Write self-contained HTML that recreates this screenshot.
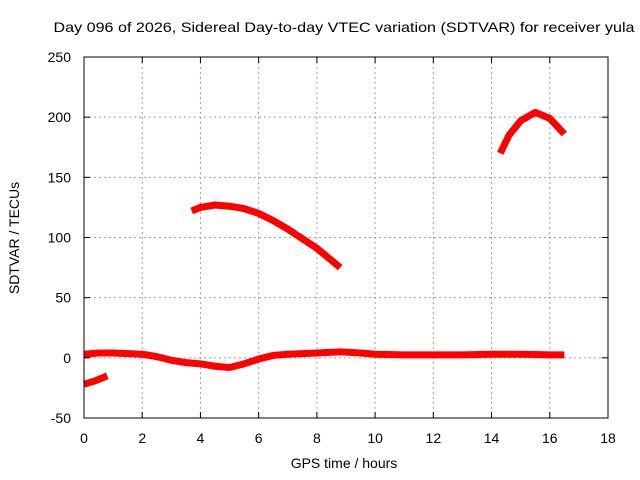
<!DOCTYPE html>
<html><head><meta charset="utf-8"><style>body{margin:0;background:#fff}svg{display:block;font-family:"Liberation Sans",sans-serif}</style></head>
<body>
<svg id="chart" width="640" height="480" viewBox="0 0 640 480">
<rect width="640" height="480" fill="#fff"/>
<text x="344" y="32" text-anchor="middle" font-size="14" textLength="581" lengthAdjust="spacingAndGlyphs">Day 096 of 2026, Sidereal Day-to-day VTEC variation (SDTVAR) for receiver yula</text>
<g id="grid"></g>
<g id="series"></g>
<rect x="84" y="57" width="524" height="361" fill="none" stroke="#000" stroke-width="1"/>
<g id="ticks" font-size="14"></g>
<text x="344" y="468" text-anchor="middle" font-size="14">GPS time / hours</text>
<text transform="translate(19,238) rotate(-90)" text-anchor="middle" font-size="14">SDTVAR / TECUs</text>
</svg>
<script>
const xTicks=[0,2,4,6,8,10,12,14,16,18];
const yTicks=[-50,0,50,100,150,200,250];
const nearZeroHours=[0,0.5,1,1.5,2,2.5,3,3.5,4,4.5,5,5.5,6,6.5,7,8,8.8,9.5,10,11,12,13,14,15,16,16.5];
const nearZeroValues=[3,4,4,3.5,3,1,-2,-4,-5,-7,-8,-5,-1,2,3,4,5,4,3,2.5,2.5,2.5,3,3,2.5,2.5];
const arc0Hours=[0,0.4,0.8];
const arc0Values=[-22,-19,-15];
const arc1Hours=[3.7,4,4.5,5,5.5,6,6.5,7,7.5,8,8.5,8.8];
const arc1Values=[122,125,127,126,124,120,114,107,99,91,81,75];
const arc2Hours=[14.3,14.6,15,15.5,16,16.5];
const arc2Values=[170,185,197,204,199,186];
const X0=84,X1=608,Y0=418,Y1=57;
const xs=h=>X0+h/18*(X1-X0);
const ys=v=>Y0-(v+50)/300*(Y0-Y1);
const NS="http://www.w3.org/2000/svg";
const grid=document.getElementById('grid'),ticks=document.getElementById('ticks'),ser=document.getElementById('series');
function mk(tag,attrs,parent){const e=document.createElementNS(NS,tag);for(const k in attrs)e.setAttribute(k,attrs[k]);parent.appendChild(e);return e;}
xTicks.forEach(t=>{const x=xs(t);
 if(t>0&&t<18){const g=mk('line',{x1:x,x2:x,y1:Y1,y2:Y0,stroke:'#a0a0a0','stroke-dasharray':'2,3'},grid);
 
 }
 const a=mk('line',{x1:x,x2:x,y1:Y0,y2:Y0-6,stroke:'#000'},ticks);
 
 
 const b=mk('line',{x1:x,x2:x,y1:Y1,y2:Y1+6,stroke:'#000'},ticks);
 
 
 const l=mk('text',{x:x,y:443,'text-anchor':'middle'},ticks);l.textContent=t;
 
 });
yTicks.forEach(t=>{const y=ys(t);
 if(t>-50&&t<250){const g=mk('line',{x1:X0,x2:X1,y1:y,y2:y,stroke:'#a0a0a0','stroke-dasharray':'2,3'},grid);
 
 }
 const a=mk('line',{x1:X0,x2:X0+6,y1:y,y2:y,stroke:'#000'},ticks);
 
 
 const b=mk('line',{x1:X1,x2:X1-6,y1:y,y2:y,stroke:'#000'},ticks);
 
 
 const l=mk('text',{x:71,y:y+5,'text-anchor':'end'},ticks);l.textContent=t;
 
 });
function series(hs,vs,name){const p=mk('polyline',{points:hs.map((h,i)=>xs(h)+','+ys(vs[i])).join(' '),fill:'none',stroke:'#ff0000','stroke-width':7,'stroke-linejoin':'round'},ser);
 
 }
series(nearZeroHours,nearZeroValues,'near-zero-series');
series(arc0Hours,arc0Values,'arc-0-series');
series(arc1Hours,arc1Values,'arc-1-series');
series(arc2Hours,arc2Values,'arc-2-series');
</script>
</body></html>
